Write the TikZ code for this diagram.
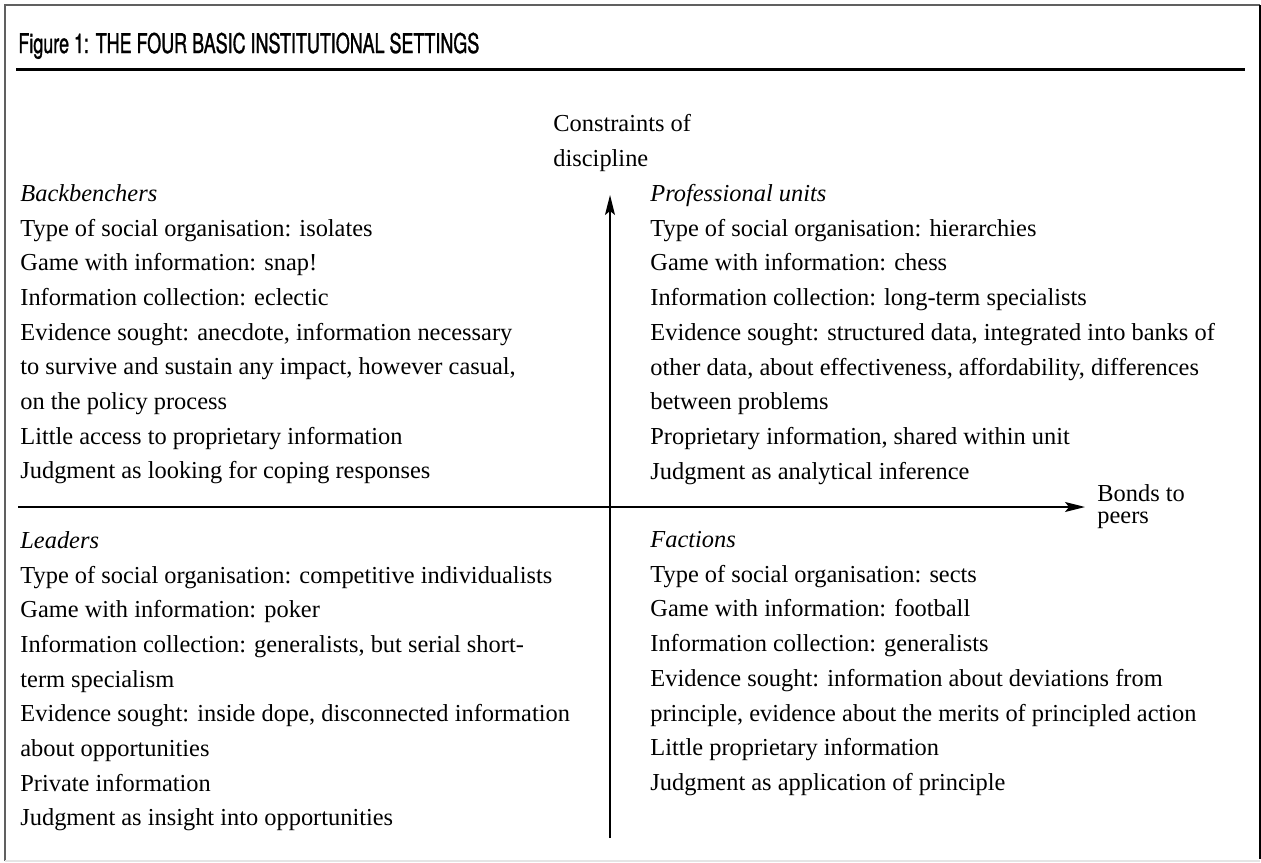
\documentclass[tikz,border=0pt]{standalone}
\usepackage{fontspec}
\setmainfont{Liberation Serif}
\newfontfamily\headfont[FakeStretch=0.66,FakeBold=1.2]{TeX Gyre Heros}
\usetikzlibrary{arrows.meta}

\begin{document}
\begin{tikzpicture}[x=0.5pt,y=-0.5pt]
     \tikzstyle{every node}=[inner sep=0pt,font=\fontsize{12.2}{17.35}\selectfont]
     \tikzstyle{quadrant}=[anchor=north west,align=left]
     \tikzstyle{axis}=[line width=0.7pt,-{Stealth[length=10pt,width=5pt,inset=2pt]}]
      \pgfmathsetmacro\xmid{610}
      \pgfmathsetmacro\ymid{507}
      \pgfmathsetmacro\xl{20}
      \pgfmathsetmacro\xr{650}
      \useasboundingbox (0,0) rectangle (1261,862);
      % frame round the figure
      \draw [gray!75!black, line width=1pt] (5,861) -- (5,5) -- (1260,5);
      \draw [black, line width=1.3pt] (1260,5) -- (1260,859);
      \draw [gray!20, line width=1pt] (5,861) -- (1260,861);
      % heading and rule
      \node [anchor=base west,font=\headfont\fontsize{13.6}{15}\selectfont] (Title) at (18,53)
            {Figure 1: THE FOUR BASIC INSTITUTIONAL SETTINGS};
      \draw [line width=1.5pt] (16,69) -- (1245,69);
      \coordinate (Origin)   at (\xmid,\ymid);
      \coordinate (XAxisMin) at (18,\ymid);
      \coordinate (XAxisMax) at (1085,\ymid);
      \coordinate (YAxisMin) at (\xmid,838);
      \coordinate (YAxisMax) at (\xmid,195);
      \draw [axis] (XAxisMin) -- (XAxisMax);
      \draw [axis] (YAxisMin) -- (YAxisMax);
      \node [quadrant] (Discipline) at (553,114) {Constraints of\\discipline};
      \node [anchor=west,align=left,font=\fontsize{12.2}{11}\selectfont] (Peers) at (1097,\ymid) {Bonds to\\peers};
      % the four settings
      \node [quadrant] (Backbenchers) at (\xl,184) {\textit{Backbenchers}\\
            Type of social organisation: isolates\\
            Game with information: snap!\\
            Information collection: eclectic\\
            Evidence sought: anecdote, information necessary\\
            to survive and sustain any impact, however casual,\\
            on the policy process\\
            Little access to proprietary information\\
            Judgment as looking for coping responses};
      \node [quadrant] (Professional) at (\xr,184) {\textit{Professional units}\\
            Type of social organisation: hierarchies\\
            Game with information: chess\\
            Information collection: long-term specialists\\
            Evidence sought: structured data, integrated into banks of\\
            other data, about effectiveness, affordability, differences\\
            between problems\\
            Proprietary information, shared within unit\\
            Judgment as analytical inference};
      \node [quadrant] (Leaders) at (\xl,531) {\textit{Leaders}\\
            Type of social organisation: competitive individualists\\
            Game with information: poker\\
            Information collection: generalists, but serial short-\\
            term specialism\\
            Evidence sought: inside dope, disconnected information\\
            about opportunities\\
            Private information\\
            Judgment as insight into opportunities};
      \node [quadrant] (Factions) at (\xr,531) {\textit{Factions}\\
            Type of social organisation: sects\\
            Game with information: football\\
            Information collection: generalists\\
            Evidence sought: information about deviations from\\
            principle, evidence about the merits of principled action\\
            Little proprietary information\\
            Judgment as application of principle};
    \end{tikzpicture}
\end{document}
